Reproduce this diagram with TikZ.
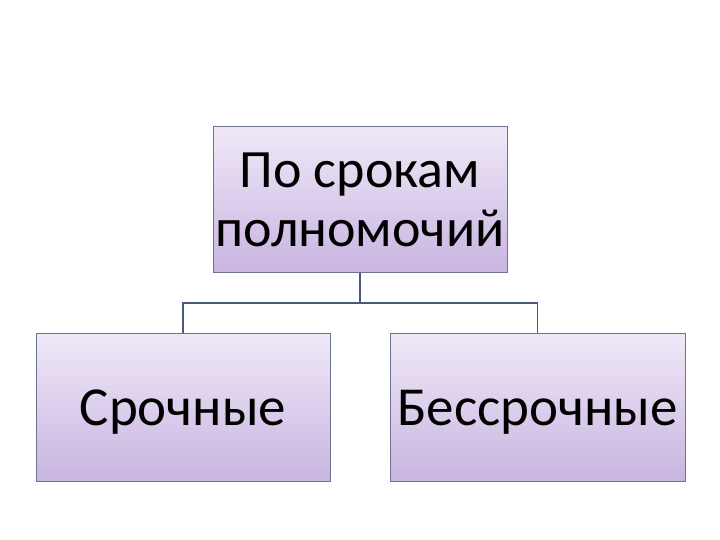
\documentclass[tikz,border=0pt]{standalone}
\usepackage{fontspec}
\setmainfont{Carlito}
\definecolor{boxtop}{HTML}{F0E8F8}
\definecolor{boxbot}{HTML}{C8B5E0}
\definecolor{boxline}{HTML}{6A7590}
\definecolor{conn}{HTML}{4A5A78}
\begin{document}
\begin{tikzpicture}[x=1pt,y=-1pt,
  box/.style={draw=boxline, line width=0.8pt, top color=boxtop, bottom color=boxbot,
    minimum width=#1, inner sep=0pt, align=center, text=black},
  conline/.style={draw=conn, line width=1.6pt}]
\useasboundingbox[fill=white] (0,0) rectangle (720,540);
\node[box=294pt, minimum height=146pt] (top) at (360,199.5) {};
\node[font=\fontsize{54}{59}\selectfont, align=center, inner sep=0pt, anchor=base] (toptext) at (360,247) {По срокам\\полномочий};
\node[box=294pt, minimum height=148pt] (left) at (183,407) {};
\node[font=\fontsize{55}{60}\selectfont, inner sep=0pt, anchor=base] (lefttext) at (183,425) {Срочные};
\node[box=295pt, minimum height=148pt] (right) at (537.5,407) {};
\node[font=\fontsize{55}{60}\selectfont, inner sep=0pt, anchor=base] (righttext) at (537.5,425) {Бессрочные};
\coordinate (mid) at (360,303);
\draw[conline] (top.south) -- (mid);
\draw[conline] (left.north) |- (mid) -| (right.north);
\end{tikzpicture}
\end{document}
